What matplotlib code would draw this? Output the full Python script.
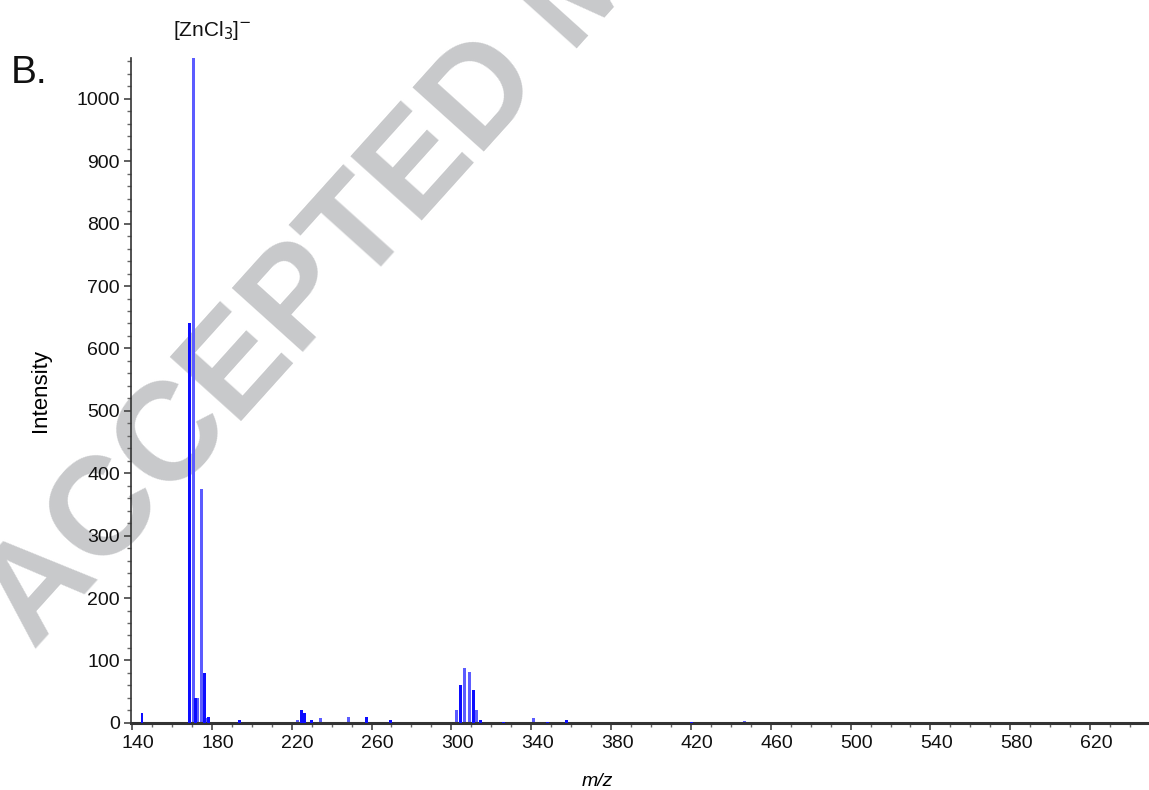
import matplotlib
matplotlib.use("Agg")
import matplotlib.pyplot as plt
from matplotlib.ticker import MultipleLocator
from matplotlib.transforms import ScaledTranslation

plt.rcParams['font.family'] = ['Liberation Sans', 'DejaVu Sans']

# --- data (m/z, intensity) ---
dark_mz = [145, 169, 172, 176.5, 178.5, 194, 225, 226.5, 230, 257.5, 269.5,
           304.5, 311, 314.5, 326, 348, 357.5, 420.5]
dark_int = [16, 640, 40, 80, 10, 5, 20, 16, 5, 10, 5,
            60, 52, 5, 2, 2, 4, 2]

light_mz = [171, 173, 175, 178, 223, 234.5, 248.5, 302.5, 306.5, 309, 312.5, 341, 447]
light_int = [1100, 40, 375, 8, 5, 8, 10, 20, 88, 81, 20, 8, 3]

x_ticks = [140, 180, 220, 260, 300, 340, 380, 420, 460, 500, 540, 580, 620]
y_ticks = [0, 100, 200, 300, 400, 500, 600, 700, 800, 900, 1000]

fig = plt.figure(figsize=(11.49, 7.90), dpi=100)
ax = fig.add_axes([0.114, 0.085, 0.886, 0.842])
ax.patch.set_alpha(0)

# watermark
fig.text(0.030, 0.175, 'ACCEPTED MANUSCRIPT', fontsize=100, fontweight='bold',
         color='#c8c9cb', rotation=48, rotation_mode='anchor',
         ha='left', va='baseline', zorder=-1)

ax.bar(light_mz, light_int, width=1.5, color='#5c5cff', zorder=2)
ax.bar(dark_mz, dark_int, width=1.4, color='#0d0dff', zorder=3)

ax.set_xlim(139.5, 649.5)
ax.set_ylim(0, 1066)

ax.set_xticks(x_ticks)
ax.set_yticks(y_ticks)
ax.xaxis.set_minor_locator(MultipleLocator(10))
ax.yaxis.set_minor_locator(MultipleLocator(20))

for s in ['top', 'right']:
    ax.spines[s].set_visible(False)
ax.spines['bottom'].set_linewidth(2.2)
ax.spines['bottom'].set_color('#333333')
ax.spines['left'].set_linewidth(1.2)
ax.spines['left'].set_color('#333333')

ax.tick_params(axis='both', which='major', length=5, width=1.2, color='#444444',
               labelsize=14, labelcolor='#111111')
ax.tick_params(axis='both', which='minor', length=3, width=1.0, color='#666666')
ax.tick_params(axis='x', pad=4)
ax.tick_params(axis='y', pad=3)

shift = ScaledTranslation(6 / 100, 0, fig.dpi_scale_trans)
for lab in ax.get_xticklabels():
    lab.set_transform(lab.get_transform() + shift)

ax.set_ylabel('Intensity', fontsize=16, labelpad=18)
ax.set_xlabel('m/z', fontsize=14, fontstyle='italic')
ax.xaxis.set_label_coords(0.458, -0.075)

fig.text(0.009, 0.895, 'B.', fontsize=28, color='#111111', va='baseline')
fig.text(0.185, 0.962, r'[ZnCl$_3$]$^{-}$', fontsize=15, color='#111111',
         ha='center', va='center')

fig.savefig('out.png', dpi=100)
